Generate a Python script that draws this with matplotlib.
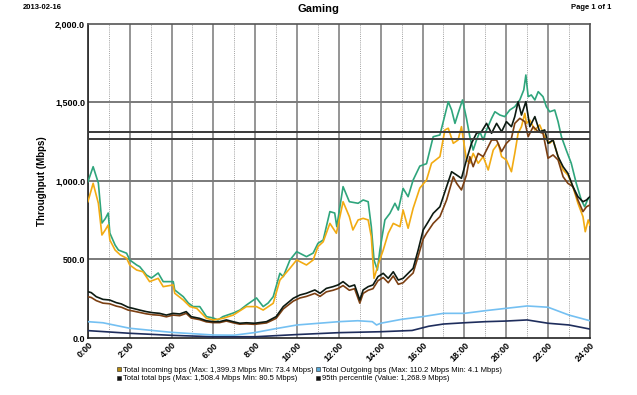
import matplotlib
matplotlib.use("Agg")
import matplotlib.pyplot as plt
from matplotlib.lines import Line2D

plt.rcParams['font.family'] = ['Liberation Sans', 'DejaVu Sans']

report_date = "2013-02-16"
title = "Gaming"
page_text = "Page 1 of 1"
y_label = "Throughput (Mbps)"

# total (green) series
green_t = [0, 0.25, 0.5, 0.67, 0.83, 0.97, 1.05, 1.3, 1.46, 1.85, 2.0, 2.33, 2.48, 2.8, 3.04,
           3.36, 3.6, 4.08, 4.15, 4.56, 4.8, 5.03, 5.35, 5.67, 6.0, 6.22, 6.45, 6.95, 7.27,
           7.58, 8.06, 8.38, 8.62, 8.86, 9.18, 9.34, 9.66, 9.98, 10.45, 10.77, 11.0, 11.25,
           11.57, 11.8, 11.9, 12.2, 12.5, 12.92, 13.16, 13.4, 13.55, 13.68, 13.84, 13.96,
           14.2, 14.44, 14.68, 14.84, 15.07, 15.31, 15.55, 15.87, 16.19, 16.51, 16.83, 17.07,
           17.23, 17.39, 17.55, 17.7, 17.91, 18.1, 18.26, 18.42, 18.58, 18.74, 18.9, 19.06,
           19.3, 19.46, 19.7, 19.93, 20.17, 20.41, 20.65, 20.84, 20.94, 21.05, 21.2, 21.37,
           21.53, 21.76, 21.92, 22.08, 22.32, 22.48, 22.64, 22.87, 23.11, 23.35, 23.59, 23.75,
           23.92, 24.0]
green_v = [995, 1091, 987, 732, 760, 796, 668, 592, 560, 540, 497, 465, 454, 401, 382,
           414, 359, 359, 306, 263, 223, 200, 200, 136, 127, 115, 136, 159, 178,
           210, 255, 200, 223, 263, 412, 391, 497, 550, 518, 541, 603, 624,
           805, 796, 709, 964, 868, 858, 879, 868, 709, 497, 433, 560,
           752, 794, 858, 815, 953, 900, 1006, 1095, 1110, 1282, 1293, 1420,
           1505, 1452, 1367, 1431, 1516, 1399, 1282, 1197, 1261, 1314, 1261, 1325,
           1399, 1441, 1420, 1410, 1452, 1473, 1516, 1580, 1675, 1537, 1548, 1516,
           1569, 1537, 1473, 1441, 1452, 1378, 1282, 1197, 1113, 985, 879, 836,
           890, 885]

# incoming (orange)
orange_t = [0, 0.25, 0.5, 0.67, 0.83, 0.97, 1.05, 1.3, 1.55, 1.85, 2.0, 2.33, 2.63, 2.95,
            3.36, 3.6, 4.08, 4.15, 4.56, 4.88, 5.2, 5.67, 6.0, 6.45, 6.95, 7.58, 8.06, 8.38,
            8.86, 9.18, 9.66, 9.98, 10.45, 10.77, 11.0, 11.25, 11.57, 11.88, 12.2, 12.5,
            12.67, 12.92, 13.16, 13.4, 13.55, 13.68, 13.9, 14.12, 14.36, 14.6, 14.92, 15.07,
            15.31, 15.55, 15.87, 16.19, 16.43, 16.83, 17.07, 17.23, 17.47, 17.7, 17.86, 18.1,
            18.26, 18.42, 18.66, 18.9, 19.14, 19.38, 19.62, 19.78, 20.01, 20.25, 20.41, 20.57,
            20.73, 20.89, 20.97, 21.13, 21.37, 21.6, 21.84, 22.08, 22.24, 22.48, 22.72, 22.95,
            23.19, 23.43, 23.67, 23.78, 23.92, 24.0]
orange_v = [868, 985, 858, 656, 688, 720, 624, 560, 529, 508, 465, 433, 422, 359,
            380, 327, 338, 285, 242, 200, 189, 125, 115, 125, 146, 200, 200, 178,
            221, 369, 444, 497, 465, 497, 582, 613, 730, 667, 868, 773,
            688, 752, 762, 752, 645, 380, 476, 560, 667, 730, 709, 815,
            699, 826, 955, 1006, 1113, 1155, 1325, 1336, 1240, 1261, 1346, 1134,
            1113, 1176, 1113, 1155, 1070, 1197, 1240, 1155, 1134, 1059, 1176, 1304,
            1346, 1431, 1367, 1388, 1325, 1357, 1282, 1240, 1261, 1155, 1070, 1038,
            964, 858, 773, 677, 752, 720]

# total bps (black) and its companion (brown)
black_t = [0, 0.16, 0.4, 0.72, 1.04, 1.36, 1.6, 1.92, 2.15, 2.47, 2.79, 3.11, 3.43, 3.75,
           4.07, 4.39, 4.7, 4.94, 5.34, 5.66, 5.98, 6.3, 6.62, 6.94, 7.26, 7.58, 7.97, 8.54,
           9.0, 9.34, 9.82, 10.14, 10.45, 10.85, 11.1, 11.4, 11.72, 11.96, 12.2, 12.5, 12.75,
           13.0, 13.16, 13.4, 13.63, 13.87, 14.12, 14.36, 14.6, 14.84, 15.07, 15.31, 15.55,
           15.79, 16.03, 16.27, 16.51, 16.83, 17.15, 17.39, 17.63, 17.86, 18.1, 18.34, 18.58,
           18.82, 19.06, 19.3, 19.54, 19.78, 20.01, 20.25, 20.41, 20.57, 20.73, 20.94, 21.13,
           21.37, 21.6, 21.84, 22.0, 22.24, 22.48, 22.72, 22.95, 23.19, 23.43, 23.67, 23.84, 24.0]
black_v = [295, 289, 263, 246, 242, 225, 217, 196, 189, 178, 168, 161, 157, 146,
           157, 153, 168, 136, 125, 110, 104, 104, 115, 104, 94, 97, 94, 104,
           136, 200, 253, 274, 285, 306, 285, 316, 327, 338, 359, 327, 338,
           242, 306, 327, 338, 391, 412, 380, 422, 369, 380, 412, 444,
           560, 688, 740, 794, 836, 964, 1059, 1038, 1017, 1134, 1240, 1304,
           1314, 1367, 1304, 1367, 1314, 1378, 1346, 1410, 1505, 1420, 1505, 1346,
           1410, 1314, 1325, 1240, 1261, 1155, 1091, 1049, 964, 900, 868, 879, 900]

brown_t = [0, 0.16, 0.4, 0.72, 1.04, 1.36, 1.6, 1.92, 2.15, 2.47, 2.79, 3.11, 3.43, 3.75,
           4.07, 4.39, 4.7, 4.94, 5.34, 5.66, 5.98, 6.3, 6.62, 6.94, 7.26, 7.58, 7.97, 8.54,
           9.0, 9.34, 9.82, 10.14, 10.45, 10.85, 11.1, 11.4, 11.72, 11.96, 12.2, 12.5, 12.75,
           13.0, 13.16, 13.4, 13.63, 13.87, 14.12, 14.36, 14.6, 14.84, 15.07, 15.31, 15.55,
           15.79, 16.03, 16.19, 16.51, 16.83, 17.15, 17.47, 17.63, 17.86, 18.1, 18.26, 18.42,
           18.66, 18.9, 19.14, 19.3, 19.54, 19.78, 20.01, 20.25, 20.41, 20.65, 20.89, 21.05,
           21.29, 21.53, 21.76, 22.0, 22.24, 22.48, 22.72, 22.95, 23.19, 23.43, 23.67, 23.84, 24.0]
brown_v = [263, 258, 238, 222, 218, 203, 196, 178, 172, 163, 154, 148, 145, 135,
           146, 142, 157, 127, 117, 103, 98, 98, 108, 97, 88, 90, 87, 96,
           125, 185, 235, 255, 265, 284, 265, 294, 304, 315, 334, 304, 314,
           222, 284, 304, 314, 365, 385, 352, 395, 342, 352, 384, 414,
           520, 630, 667, 730, 773, 879, 1027, 985, 943, 1038, 1155, 1091,
           1176, 1155, 1219, 1261, 1261, 1187, 1240, 1272, 1367, 1399, 1378, 1282,
           1346, 1314, 1304, 1145, 1166, 1134, 1027, 985, 964, 879, 805, 836, 847]

# outgoing (light blue) and its companion (navy)
lblue_t = [0, 0.72, 2, 4, 6, 7, 8, 9, 10, 12, 12.9, 13.6, 13.8, 14.0, 15, 16, 17, 18, 19,
           20, 21, 22, 23, 24]
lblue_v = [104, 97, 62, 36, 19, 18, 35, 60, 83, 104, 110, 104, 83, 94, 119, 136, 157, 157,
           174, 189, 204, 196, 146, 110]

navy_t = [0, 2, 4, 6, 8, 10, 12, 14, 15.5, 16.3, 17, 18, 19, 20, 21, 22, 23, 24]
navy_v = [47, 30, 17, 8, 8, 22, 34, 40, 48, 75, 89, 97, 104, 108, 115, 94, 83, 57]

p95_values = [1313, 1268]

legend_labels = [
    "Total incoming bps (Max: 1,399.3 Mbps Min: 73.4 Mbps)",
    "Total total bps (Max: 1,508.4 Mbps Min: 80.5 Mbps)",
    "Total Outgoing bps (Max: 110.2 Mbps Min: 4.1 Mbps)",
    "95th percentile (Value: 1,268.9 Mbps)",
]
legend_colors = ["#b58a12", "#111111", "#5aa9d6", "#111111"]

hours = list(range(0, 25))
tick_hours = list(range(0, 25, 2))
tick_labels = [f"{h}:00" for h in tick_hours]
y_ticks = [0, 500, 1000, 1500, 2000]

fig = plt.figure(figsize=(6.37, 3.95), dpi=100)
ax = fig.add_axes([0.138, 0.1443, 0.788, 0.795])

for h in hours:
    if h % 2 == 0:
        ax.axvline(h, color="#959595", lw=1.4, zorder=1)
    else:
        ax.axvline(h, color="#a0a0a0", lw=0.7, ls=(0, (1, 1.2)), zorder=1)
for v in y_ticks[1:-1]:
    ax.axhline(v, color="#7a7a7a", lw=1.4, zorder=1)

ax.plot(navy_t, navy_v, color="#1e2d5c", lw=1.2, zorder=3)
ax.plot(lblue_t, lblue_v, color="#74c0f2", lw=1.2, zorder=3)
ax.plot(green_t, green_v, color="#2fa57c", lw=1.2, zorder=4)
ax.plot(orange_t, orange_v, color="#f2ab12", lw=1.2, zorder=4)
ax.plot(brown_t, brown_v, color="#7b3f12", lw=1.2, zorder=5)
ax.plot(black_t, black_v, color="#0c1a12", lw=1.2, zorder=6)

for v in p95_values:
    ax.axhline(v, color="#3a3a3a", lw=1.4, zorder=7)

ax.set_xlim(0, 24)
ax.set_ylim(0, 2000)
ax.set_xticks(tick_hours)
ax.set_xticklabels(tick_labels, rotation=45, ha="right", rotation_mode="anchor",
                   fontsize=6.5, fontweight="bold")
ax.set_yticks(y_ticks)
ax.set_yticklabels([f"{v:,.1f}" for v in y_ticks], fontsize=6.5, fontweight="bold")
ax.tick_params(length=0, pad=2)
for s in ax.spines.values():
    s.set_color("#555555")
    s.set_linewidth(1.2)
ax.spines["left"].set_color("#222222")
ax.spines["bottom"].set_color("#222222")
ax.set_ylabel(y_label, fontsize=7, fontweight="bold", labelpad=6)

fig.text(0.5, 0.978, title, ha="center", va="center", fontsize=8, fontweight="bold")
fig.text(0.035, 0.98, report_date, ha="left", va="center", fontsize=5.5, fontweight="bold")
fig.text(0.96, 0.98, page_text, ha="right", va="center", fontsize=5.5, fontweight="bold")

handles = [Line2D([], [], ls="none", marker="s", markersize=3.5, color=c,
                  markeredgecolor="#222222", markeredgewidth=0.4) for c in legend_colors]
fig.legend(handles, legend_labels, ncol=2, loc="center", bbox_to_anchor=(0.485, 0.052),
           frameon=False, fontsize=5.5, handletextpad=0.2, columnspacing=0.3,
           labelspacing=0.1, handlelength=0.6, borderpad=0)

fig.savefig("out.png", dpi=100)
